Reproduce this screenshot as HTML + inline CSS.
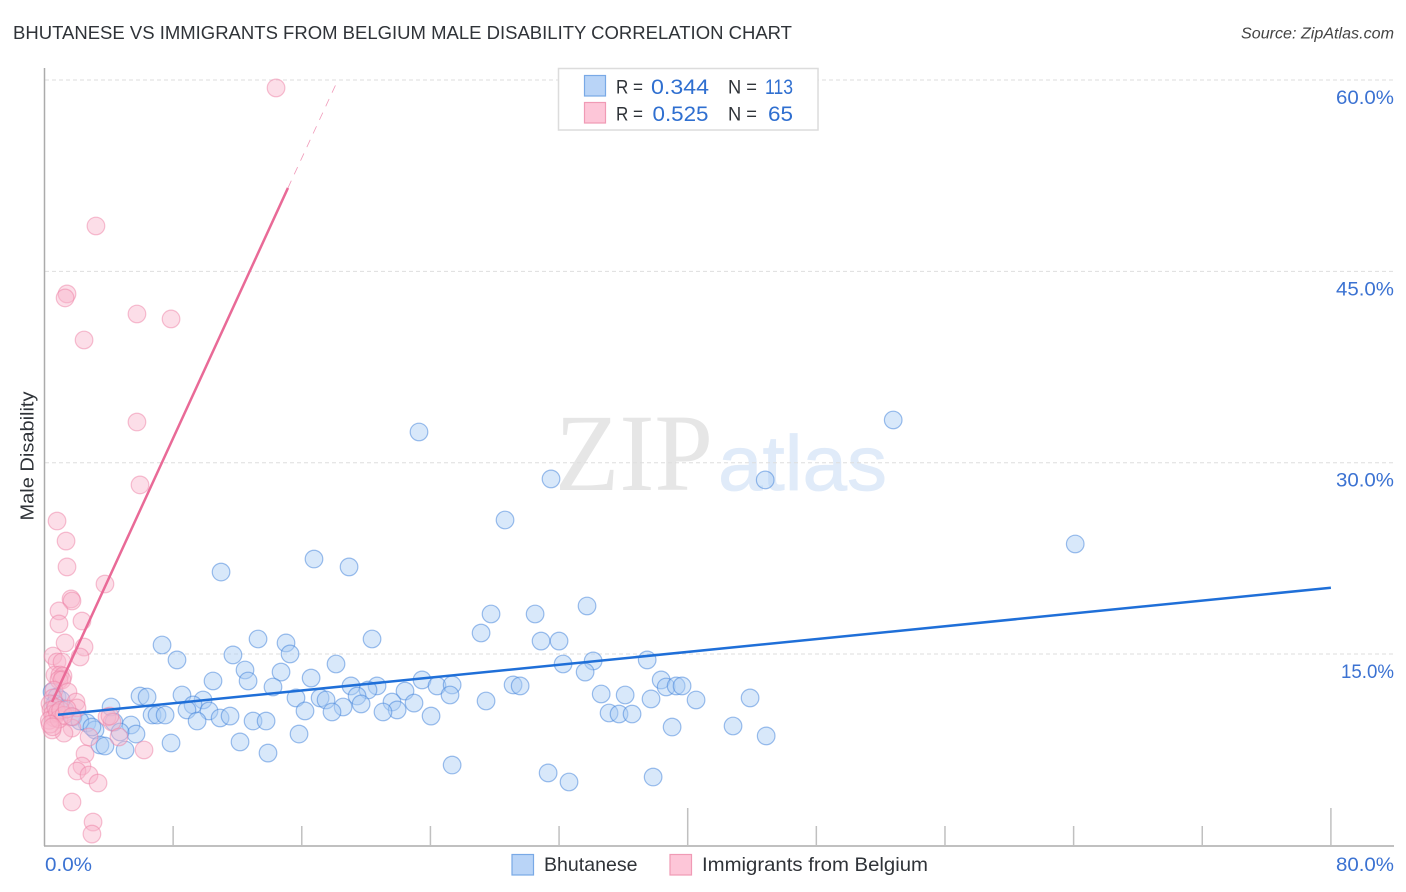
<!DOCTYPE html>
<html>
<head>
<meta charset="utf-8">
<title>Bhutanese vs Immigrants from Belgium Male Disability Correlation Chart</title>
<style>
html,body{margin:0;padding:0;background:#fff;width:1406px;height:892px;overflow:hidden}
svg{display:block}
text{font-family:"Liberation Sans",sans-serif}
</style>
</head>
<body>
<svg id="chart" xmlns="http://www.w3.org/2000/svg" width="1406" height="892" viewBox="0 0 1406 892">
  <rect x="0" y="0" width="1406" height="892" fill="#fff"/>
  <text x="13" y="39" font-size="18.5" fill="#2f3338" textLength="779" lengthAdjust="spacingAndGlyphs">BHUTANESE VS IMMIGRANTS FROM BELGIUM MALE DISABILITY CORRELATION CHART</text>
  <text x="1394" y="38.500" font-size="15.500" font-style="italic" fill="#444" text-anchor="end" textLength="153" lengthAdjust="spacingAndGlyphs">Source: ZipAtlas.com</text>
  <text transform="translate(33.500,456) rotate(-90)" font-size="18.500" fill="#2f3338" text-anchor="middle" textLength="129" lengthAdjust="spacingAndGlyphs">Male Disability</text>
  <g>
    <text x="555" y="490" font-size="110" fill="#e6e6e6" textLength="158" lengthAdjust="spacingAndGlyphs" style="font-family:'Liberation Serif',serif">ZIP</text>
    <text x="718" y="490" font-size="78" fill="#e0ebf9" stroke="#e0ebf9" stroke-width="0.800" textLength="169" lengthAdjust="spacingAndGlyphs">atlas</text>
  </g>
  <g id="grid"></g>
  <g id="axes"></g>
  <g id="points-blue"></g>
  <g id="points-pink"></g>
  <g id="trends"></g>
  <g id="labels"></g>

  <g>
    <rect x="558.500" y="68.500" width="259.500" height="61.500" fill="#fff" stroke="#dcdcdc" stroke-width="1.500"/>
    <rect x="584.500" y="75.500" width="21" height="20.500" fill="#b9d4f7" stroke="#79a9e6" stroke-width="1.200"/>
    <rect x="584.500" y="102.500" width="21" height="20.500" fill="#fdc6d8" stroke="#f09ab5" stroke-width="1.200"/>
    <text x="616" y="93.500" font-size="19.500" fill="#2f3338" textLength="27" lengthAdjust="spacingAndGlyphs">R =</text>
    <text x="651" y="94" font-size="21" fill="#2f6fd0" textLength="58" lengthAdjust="spacingAndGlyphs">0.344</text>
    <text x="728" y="93.500" font-size="19.500" fill="#2f3338" textLength="29" lengthAdjust="spacingAndGlyphs">N =</text>
    <text x="765" y="94" font-size="21" fill="#2f6fd0" textLength="28" lengthAdjust="spacingAndGlyphs">113</text>
    <text x="616" y="120.500" font-size="19.500" fill="#2f3338" textLength="27" lengthAdjust="spacingAndGlyphs">R =</text>
    <text x="652.500" y="121" font-size="21" fill="#2f6fd0" textLength="56" lengthAdjust="spacingAndGlyphs">0.525</text>
    <text x="728" y="120.500" font-size="19.500" fill="#2f3338" textLength="29" lengthAdjust="spacingAndGlyphs">N =</text>
    <text x="768" y="121" font-size="21" fill="#2f6fd0" textLength="25" lengthAdjust="spacingAndGlyphs">65</text>
  </g>

  <g>
    <rect x="512" y="854.500" width="21.500" height="20.500" fill="#b9d4f7" stroke="#79a9e6" stroke-width="1.200"/>
    <text x="544" y="871" font-size="19.500" fill="#2f3338" textLength="93.500" lengthAdjust="spacingAndGlyphs">Bhutanese</text>
    <rect x="670" y="854.500" width="21.500" height="20.500" fill="#fdc6d8" stroke="#f09ab5" stroke-width="1.200"/>
    <text x="702" y="871" font-size="19.500" fill="#2f3338" textLength="226" lengthAdjust="spacingAndGlyphs">Immigrants from Belgium</text>
  </g>
</svg>
<script>
const blueX = [23.29,52.78,31.50,44.82,28.64,64.10,16.76,18.94,10.98,33.74,27.77,30.51,27.15,30.88,32.00,20.37,13.28,15.02,7.31,15.27,11.72,8.24,37.48,34.12,32.25,18.13,12.47,14.71,33.62,16.58,10.48,12.66,23.48,38.35,38.66,39.28,39.65,24.41,25.35,29.14,29.58,19.06,20.68,20.12,22.42,8.55,5.94,6.38,9.86,15.64,17.14,17.51,19.44,25.22,27.46,34.62,36.11,37.72,40.52,43.88,21.61,22.98,19.69,18.57,21.93,21.05,16.20,17.88,9.24,8.86,10.23,4.14,6.69,7.00,7.50,10.92,11.54,12.97,13.78,9.49,24.04,35.11,35.73,36.54,39.03,42.82,5.38,4.32,2.64,3.14,5.69,4.70,15.83,44.88,12.16,7.87,5.01,3.45,3.76,13.90,25.35,31.32,37.85,32.62,0.47,0.78,1.03,0.65,1.27,1.77,2.20,2.95,14.21];
const blueY = [32.41,33.35,28.73,28.65,25.51,23.63,22.45,21.83,21.43,18.77,18.14,18.14,16.65,16.02,16.02,16.18,16.18,15.87,15.71,15.01,14.93,14.54,14.54,14.46,14.22,14.22,13.75,13.59,13.59,13.12,12.89,12.89,12.97,12.97,12.42,12.50,12.50,12.50,12.58,12.58,12.50,12.50,12.50,12.18,12.10,11.79,11.71,11.63,11.40,11.56,11.56,11.40,11.71,11.79,11.32,11.87,11.79,11.48,11.40,11.56,11.24,11.16,11.09,10.85,10.62,10.46,10.54,10.46,11.01,10.62,10.54,10.85,10.22,10.22,10.22,9.99,10.14,9.75,9.75,9.75,10.14,10.38,10.30,10.30,9.28,9.36,9.44,9.67,9.60,9.05,8.73,8.89,8.73,8.58,8.11,8.03,7.48,7.87,7.79,7.24,6.30,5.68,5.36,4.97,12.03,11.64,11.40,11.09,10.62,10.07,9.75,9.28,12.42];
const pinkX = [14.40,3.20,1.40,1.28,2.46,5.75,7.87,5.75,5.94,0.78,1.34,1.40,3.76,1.65,1.71,0.90,0.90,2.33,1.28,2.46,2.21,0.53,0.78,1.09,0.65,0.96,1.15,0.90,1.09,0.59,1.46,1.96,0.53,2.02,3.89,4.20,4.07,1.71,1.21,0.47,4.63,6.19,2.77,2.52,2.33,2.02,2.77,3.33,1.71,3.02,2.95,0.34,0.40,0.50,0.60,0.30,0.70,0.80,0.90,1.00,1.20,0.35,0.50,1.40,1.70];
const pinkY = [59.38,48.56,43.23,42.92,39.62,41.66,41.27,33.19,28.26,25.43,23.86,21.83,20.49,19.32,19.16,18.38,17.36,17.59,15.87,15.55,14.77,14.85,14.38,14.38,13.36,13.36,13.28,12.97,12.97,12.18,12.03,11.24,11.56,10.78,10.07,9.67,10.14,9.20,8.80,9.05,8.50,7.48,8.50,7.17,6.22,5.83,5.52,4.89,3.40,1.83,0.89,11.10,10.60,10.30,10.00,9.80,10.80,10.40,9.90,10.60,10.20,9.50,9.30,10.70,10.10];
const blueTrendX = [0.84,80];
const blueTrendY = [10.24,20.20];
const pinkTrendX = [0.47,15.14];
const pinkTrendY = [11.24,51.54];
const pinkDashX = [15.14,18.19];
const pinkDashY = [51.54,59.85];
const yTicks = [15,30,45,60];
const yTickLabels = ['15.0%','30.0%','45.0%','60.0%'];
const xTicks = [8,16,24,32,40,48,56,64,72,80];
const xMajorTicks = [40,80];
const xEndTicks = [0,80];
const xEndLabels = ['0.0%','80.0%'];

const SVGNS = 'http://www.w3.org/2000/svg';
function xScale(v){ return 44.5 + v * 16.08; }
function yScale(v){ return 845.4 - v * 12.756; }
function make(tag, attrs){
  const el = document.createElementNS(SVGNS, tag);
  for (const k in attrs) el.setAttribute(k, attrs[k]);
  return el;
}
const gridG = document.getElementById('grid');
const axesG = document.getElementById('axes');
const blueG = document.getElementById('points-blue');
const pinkG = document.getElementById('points-pink');
const trendG = document.getElementById('trends');
const labelG = document.getElementById('labels');

yTicks.forEach(function(t, i){
  const g = make('line', {x1:45, x2:1394, y1:yScale(t), y2:yScale(t), stroke:'#dedede', 'stroke-width':1, 'stroke-dasharray':'4 3'});
  
  
  gridG.appendChild(g);
  const l = make('text', {x:1394, y:yScale(t)+24, 'font-size':19.5, fill:'#3b72d2', 'text-anchor':'end', textLength:(i === 0 ? 53 : 58), lengthAdjust:'spacingAndGlyphs'});
  l.textContent = yTickLabels[i];
  
  
  labelG.appendChild(l);
});

const yAxis = make('line', {x1:44.5, x2:44.5, y1:68, y2:846, stroke:'#ababab', 'stroke-width':1.5});


axesG.appendChild(yAxis);
const xAxis = make('line', {x1:44, x2:1394, y1:846, y2:846, stroke:'#ababab', 'stroke-width':1.5});


axesG.appendChild(xAxis);
xTicks.forEach(function(t){
  const top = xMajorTicks.indexOf(t) >= 0 ? 808 : 826;
  const tick = make('line', {x1:xScale(t), x2:xScale(t), y1:top, y2:846, stroke:'#c0c0c0', 'stroke-width':1.5});
  
  
  axesG.appendChild(tick);
});
xEndTicks.forEach(function(t, i){
  const anchor = i === 0 ? 'start' : 'end';
  const px = i === 0 ? xScale(t) + 0.5 : 1394;
  const l = make('text', {x:px, y:871, 'font-size':19.5, fill:'#3b72d2', 'text-anchor':anchor, textLength:(i === 0 ? 47 : 58), lengthAdjust:'spacingAndGlyphs'});
  l.textContent = xEndLabels[i];
  
  
  labelG.appendChild(l);
});

blueX.forEach(function(v, i){
  const c = make('circle', {cx:xScale(v), cy:yScale(blueY[i]), r:8.8, fill:'rgba(170,205,245,0.46)', stroke:'rgba(62,128,218,0.5)', 'stroke-width':1.2});
  
  
  blueG.appendChild(c);
});
pinkX.forEach(function(v, i){
  const c = make('circle', {cx:xScale(v), cy:yScale(pinkY[i]), r:8.8, fill:'rgba(248,180,203,0.44)', stroke:'rgba(238,130,165,0.5)', 'stroke-width':1.2});
  
  
  pinkG.appendChild(c);
});

const dash = make('line', {x1:xScale(pinkDashX[0]), y1:yScale(pinkDashY[0]), x2:xScale(pinkDashX[1]), y2:yScale(pinkDashY[1]), stroke:'#ea6f9b', 'stroke-width':0.8, 'stroke-opacity':0.7, 'stroke-dasharray':'8 7'});


trendG.appendChild(dash);
const pinkLine = make('line', {x1:xScale(pinkTrendX[0]), y1:yScale(pinkTrendY[0]), x2:xScale(pinkTrendX[1]), y2:yScale(pinkTrendY[1]), stroke:'#e96a97', 'stroke-width':2.5});


trendG.appendChild(pinkLine);
const blueLine = make('line', {x1:xScale(blueTrendX[0]), y1:yScale(blueTrendY[0]), x2:xScale(blueTrendX[1]), y2:yScale(blueTrendY[1]), stroke:'#1f6fd8', 'stroke-width':2.5});


trendG.appendChild(blueLine);
</script>
</body>
</html>
